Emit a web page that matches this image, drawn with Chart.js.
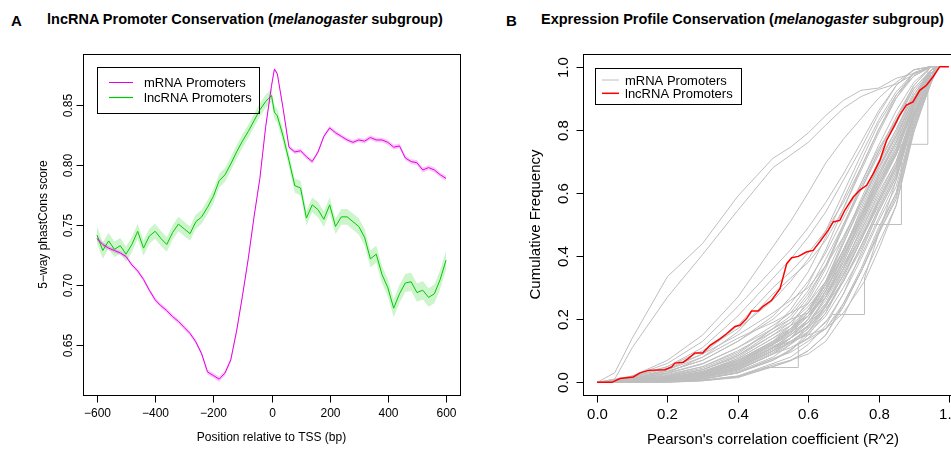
<!DOCTYPE html>
<html>
<head>
<meta charset="utf-8">
<script src="https://cdn.jsdelivr.net/npm/chart.js"></script>
<style>
  html, body { margin: 0; padding: 0; background: #fff; }
  body { width: 951px; height: 449px; overflow: hidden; position: relative; font-family: "Liberation Sans", Arial, sans-serif; }
  canvas { position: absolute; top: 0; }
  #chartA { left: 0; }
  #chartB { left: 475px; }
  .tag, .title { position: absolute; font-weight: bold; white-space: nowrap; color: #000; }
  .tag { font-size: 15px; line-height: 18px; top: 12px; }
  .title { font-size: 14.5px; line-height: 17px; top: 11px; }
</style>
</head>
<body>
<div class="tag" style="left:11px">A</div>
<div class="title" style="left:47px">lncRNA Promoter Conservation (<i>melanogaster</i> subgroup)</div>
<div class="tag" style="left:506px">B</div>
<div class="title" style="left:541px">Expression Profile Conservation (<i>melanogaster</i> subgroup)</div>
<canvas id="chartA" width="475" height="449"></canvas>
<canvas id="chartB" width="500" height="449"></canvas>
<script>
// ---- Panel A : phastCons score around the TSS ----
const positions = [-600, -580, -560, -540, -520, -500, -480, -460, -440, -420,
  -400, -380, -360, -340, -320, -300, -280, -260, -240, -220,
  -200, -180, -160, -140, -120, -100, -80, -60, -40, -20,
  0, 10, 20, 40, 60, 80, 100, 120, 140, 160,
  180, 200, 220, 240, 260, 280, 300, 320, 340, 360,
  380, 400, 420, 440, 460, 480, 500, 520, 540, 560,
  580, 600];

const mrnaMean = [0.739, 0.734, 0.731, 0.729, 0.727, 0.724, 0.717, 0.712, 0.705, 0.696,
  0.688, 0.683, 0.679, 0.674, 0.670, 0.665, 0.660, 0.653, 0.643, 0.628,
  0.625, 0.622, 0.627, 0.638, 0.662, 0.691, 0.722, 0.757, 0.789, 0.832,
  0.866, 0.880, 0.876, 0.847, 0.815, 0.811, 0.812, 0.807, 0.803, 0.811,
  0.824, 0.831, 0.827, 0.824, 0.821, 0.819, 0.821, 0.820, 0.823, 0.821,
  0.821, 0.819, 0.815, 0.816, 0.806, 0.803, 0.802, 0.796, 0.798, 0.796,
  0.792, 0.789];

const mrnaSE = [0.0018, 0.0018, 0.0017, 0.0017, 0.0017, 0.0017, 0.0018, 0.0018, 0.0018, 0.0019,
  0.0019, 0.0019, 0.0019, 0.0020, 0.0020, 0.0020, 0.0020, 0.0020, 0.0020, 0.0021,
  0.0021, 0.0021, 0.0021, 0.0020, 0.0019, 0.0018, 0.0017, 0.0016, 0.0016, 0.0015,
  0.0015, 0.0015, 0.0015, 0.0016, 0.0017, 0.0017, 0.0018, 0.0018, 0.0018, 0.0018,
  0.0018, 0.0018, 0.0018, 0.0018, 0.0018, 0.0018, 0.0018, 0.0019, 0.0019, 0.0019,
  0.0019, 0.0019, 0.0019, 0.0020, 0.0020, 0.0020, 0.0020, 0.0020, 0.0020, 0.0020,
  0.0020, 0.0020];

const lncMean = [0.742, 0.729, 0.737, 0.730, 0.733, 0.726, 0.734, 0.745, 0.731, 0.741,
  0.745, 0.739, 0.734, 0.744, 0.751, 0.747, 0.743, 0.753, 0.757, 0.765,
  0.774, 0.787, 0.792, 0.801, 0.811, 0.820, 0.828, 0.837, 0.846, 0.853,
  0.858, 0.844, 0.841, 0.824, 0.804, 0.783, 0.781, 0.756, 0.767, 0.763,
  0.755, 0.767, 0.749, 0.757, 0.757, 0.753, 0.749, 0.740, 0.722, 0.726,
  0.709, 0.698, 0.681, 0.693, 0.702, 0.703, 0.694, 0.696, 0.690, 0.693,
  0.705, 0.721];

const lncSE = [0.0070, 0.0068, 0.0066, 0.0065, 0.0065, 0.0064, 0.0064, 0.0063, 0.0063, 0.0062,
  0.0062, 0.0062, 0.0061, 0.0061, 0.0060, 0.0060, 0.0059, 0.0059, 0.0058, 0.0058,
  0.0058, 0.0057, 0.0057, 0.0056, 0.0056, 0.0055, 0.0055, 0.0055, 0.0055, 0.0055,
  0.0055, 0.0056, 0.0056, 0.0057, 0.0058, 0.0060, 0.0060, 0.0061, 0.0062, 0.0063,
  0.0064, 0.0064, 0.0065, 0.0065, 0.0066, 0.0067, 0.0068, 0.0069, 0.0070, 0.0071,
  0.0072, 0.0073, 0.0075, 0.0075, 0.0075, 0.0076, 0.0076, 0.0077, 0.0077, 0.0078,
  0.0079, 0.0080];

const xTicksA = [-600, -400, -200, 0, 200, 400, 600];
const xTickLabelsA = ['\u2212600', '\u2212400', '\u2212200', '0', '200', '400', '600'];
const yTicksA = [0.65, 0.70, 0.75, 0.80, 0.85];
const yTickLabelsA = ['0.65', '0.70', '0.75', '0.80', '0.85'];

// ---- Panel B : cumulative distributions of expression correlation ----
const ecdfGrid = [0, 0.05, 0.1, 0.2, 0.3, 0.4, 0.5, 0.55, 0.6, 0.65, 0.7, 0.75, 0.8, 0.85, 0.9, 0.95, 0.97];

// one row per mRNA promoter set, values at ecdfGrid
const mrnaEcdf = [
  [0, .010, .020, .050, .100, .170, .260, .320, .390, .480, .600, .720, .830, .920, .980, 1, 1],
  [0, .003, .008, .020, .045, .090, .170, .230, .310, .420, .550, .680, .800, .900, .970, 1, 1],
  [0, .008, .018, .045, .090, .150, .220, .260, .300, .370, .460, .570, .680, .780, .900, .980, 1],
  [0, .005, .012, .035, .070, .130, .200, .250, .320, .410, .520, .630, .740, .830, .930, .990, 1],
  [0, .002, .005, .015, .035, .070, .130, .180, .260, .360, .490, .630, .750, .860, .950, 1, 1],
  [0, .006, .015, .040, .080, .140, .190, .220, .250, .320, .420, .520, .630, .730, .880, .980, 1],
  [0, .002, .006, .018, .040, .080, .150, .190, .250, .340, .460, .570, .680, .780, .900, .990, 1],
  [0, .004, .010, .030, .060, .110, .170, .200, .220, .270, .360, .460, .570, .680, .850, .970, 1],
  [0, .001, .004, .012, .030, .060, .120, .160, .220, .320, .450, .580, .700, .800, .920, .990, 1],
  [0, .003, .009, .025, .050, .100, .160, .190, .240, .310, .400, .510, .620, .720, .870, .980, 1],
  [0, .001, .003, .010, .025, .055, .110, .150, .200, .280, .390, .510, .630, .740, .880, .980, 1],
  [0, .002, .005, .015, .032, .075, .140, .170, .210, .280, .370, .480, .600, .700, .860, .970, 1],
  [0, .001, .003, .008, .020, .045, .100, .140, .200, .290, .410, .550, .670, .780, .900, .990, 1],
  [0, .002, .004, .013, .030, .065, .130, .160, .190, .260, .360, .470, .580, .690, .850, .970, 1],
  [0, 0, .002, .006, .015, .035, .080, .120, .180, .270, .390, .520, .650, .760, .890, .990, 1],
  [0, .001, .003, .010, .022, .050, .100, .130, .160, .220, .320, .430, .550, .660, .840, .970, 1],
  [0, 0, .001, .004, .010, .030, .070, .100, .160, .240, .360, .490, .610, .720, .870, .980, 1],
  [0, .001, .002, .008, .018, .040, .090, .110, .140, .190, .280, .390, .510, .620, .820, .960, 1],
  [0, 0, .002, .005, .012, .030, .075, .100, .150, .220, .330, .450, .580, .690, .850, .970, 1],
  [0, 0, .001, .003, .008, .020, .060, .080, .120, .180, .280, .410, .540, .650, .830, .970, 1],
  [0, .001, .003, .010, .025, .055, .110, .130, .150, .170, .240, .350, .470, .580, .800, .950, 1],
  [0, 0, 0, .001, .005, .015, .050, .070, .100, .150, .250, .360, .490, .600, .810, .960, 1],
  [0, .003, .008, .022, .050, .095, .170, .210, .280, .370, .500, .620, .730, .840, .940, 1, 1],
  [0, .002, .005, .015, .030, .070, .130, .170, .230, .310, .420, .530, .640, .740, .880, .980, 1],
  [0, .005, .012, .035, .070, .130, .210, .270, .350, .460, .580, .700, .820, .910, .970, 1, 1],
  [0, .001, .003, .010, .020, .050, .110, .140, .180, .240, .340, .450, .560, .670, .840, .970, 1],
  [0, .002, .005, .015, .035, .075, .140, .180, .230, .310, .420, .530, .650, .760, .890, .980, 1],
  [0, .002, .005, .014, .030, .065, .125, .160, .210, .290, .400, .520, .630, .730, .870, .980, 1],
  [0, .001, .004, .012, .028, .060, .120, .155, .210, .300, .420, .540, .660, .760, .890, .980, 1],
  [0, .001, .004, .011, .025, .055, .110, .140, .180, .250, .350, .460, .570, .680, .850, .970, 1],
  [0, .001, .003, .010, .022, .050, .105, .140, .190, .270, .380, .500, .620, .730, .870, .980, 1],
  [0, .002, .005, .014, .032, .070, .130, .170, .230, .320, .440, .560, .680, .790, .910, .990, 1],
  [0, .001, .002, .008, .018, .042, .095, .125, .170, .240, .340, .450, .570, .680, .850, .970, 1],
  [0, 0, .002, .007, .016, .038, .090, .120, .160, .230, .320, .430, .550, .660, .840, .970, 1],
  [0, .001, .004, .013, .030, .065, .125, .165, .220, .310, .440, .570, .690, .800, .910, .990, 1],
  [0, .003, .007, .020, .040, .085, .150, .180, .210, .270, .370, .480, .590, .700, .860, .970, 1],
  [0, 0, .001, .005, .012, .032, .075, .095, .130, .170, .250, .350, .470, .590, .810, .960, 1],
  [0, .001, .003, .009, .020, .045, .100, .125, .155, .210, .300, .400, .520, .640, .830, .960, 1],
  [0, 0, 0, .002, .006, .018, .055, .070, .090, .130, .210, .320, .440, .560, .800, .950, 1],
  [0, .004, .010, .028, .058, .110, .180, .220, .290, .390, .500, .610, .720, .820, .930, .990, 1],
  [0, .001, .003, .011, .025, .055, .110, .150, .200, .290, .400, .520, .640, .750, .880, .980, 1],
  [0, .002, .004, .013, .030, .065, .120, .150, .190, .250, .340, .450, .570, .680, .850, .970, 1],
  [0, .001, .003, .009, .020, .048, .100, .140, .200, .290, .410, .530, .660, .770, .900, .990, 1],
  [0, .001, .004, .011, .026, .058, .115, .140, .175, .230, .320, .420, .540, .650, .840, .970, 1],
  [0, 0, 0, .002, .006, .017, .050, .068, .100, .150, .240, .350, .480, .600, .820, .960, 1],
  [0, .002, .006, .018, .040, .085, .160, .200, .270, .370, .490, .610, .730, .830, .940, 1, 1],
  [0, .005, .020, .060, .130, .240, .360, .420, .490, .570, .660, .760, .860, .940, .990, 1, 1],
  [0, .005, .015, .050, .110, .210, .330, .390, .460, .540, .640, .740, .850, .940, .990, 1, 1],
  [0, .003, .010, .040, .090, .180, .300, .350, .410, .480, .570, .680, .800, .910, .980, 1, 1],
  [0, .003, .010, .030, .080, .160, .280, .330, .380, .450, .550, .670, .790, .900, .980, 1, 1],
  [0, .030, .140, .335, .440, .590, .710, .745, .790, .845, .893, .925, .932, .963, .978, 1, 1],
  [0, .010, .110, .270, .405, .545, .680, .720, .760, .815, .868, .905, .928, .945, .975, 1, 1],
  [0, .005, .020, .070, .150, .270, .430, .510, .600, .695, .770, .835, .900, .950, .990, 1, 1]
];

// mRNA sets with visible jumps, each with its own x positions
const mrnaStepX = [
  [0, .1, .2, .3, .4, .5, .6, .7, .8, .865, .94, .94, .97],
  [0, .2, .3, .4, .5, .6, .7, .78, .865, .865, .9, .95, .97],
  [0, .2, .3, .4, .48, .572, .572, .65, .7, .76, .8, .85, .9, .95, .97],
  [0, .2, .3, .4, .5, .6, .67, .76, .76, .8, .85, .9, .95, .97]
];
const mrnaStepY = [
  [0, .003, .010, .025, .060, .120, .220, .380, .620, .754, .754, 1, 1],
  [0, .005, .015, .040, .090, .170, .320, .500, .500, .720, .880, .990, 1],
  [0, 0, .005, .020, .047, .047, .120, .170, .220, .320, .420, .560, .790, .960, 1],
  [0, .003, .010, .030, .070, .140, .215, .215, .330, .470, .640, .850, .980, 1]
];

const lncEcdfX = [0, 0.042, 0.065, 0.103, 0.122, 0.146, 0.193, 0.212, 0.221, 0.245,
  0.259, 0.278, 0.300, 0.321, 0.349, 0.368, 0.392, 0.406, 0.425, 0.439,
  0.458, 0.472, 0.496, 0.520, 0.539, 0.553, 0.572, 0.595, 0.614, 0.633,
  0.657, 0.671, 0.690, 0.704, 0.728, 0.747, 0.766, 0.785, 0.804, 0.823,
  0.846, 0.860, 0.879, 0.898, 0.917, 0.936, 0.955, 0.974, 1.0];
const lncEcdfY = [0, 0, 0.012, 0.017, 0.030, 0.038, 0.040, 0.049, 0.061, 0.064,
  0.075, 0.093, 0.093, 0.117, 0.138, 0.154, 0.177, 0.181, 0.202, 0.226,
  0.226, 0.241, 0.260, 0.297, 0.376, 0.395, 0.399, 0.413, 0.418, 0.445,
  0.482, 0.508, 0.513, 0.545, 0.587, 0.609, 0.624, 0.661, 0.704, 0.767,
  0.815, 0.846, 0.878, 0.888, 0.925, 0.941, 0.968, 1.0, 1.0];

const ticksB = [0, 0.2, 0.4, 0.6, 0.8, 1.0];
const tickLabelsB = ['0.0', '0.2', '0.4', '0.6', '0.8', '1.0'];

// ---- drawing ----
const FONT = '"Liberation Sans", Arial, sans-serif';
Chart.defaults.font.family = FONT;

// R-style frame: box, outside ticks, rotated y labels, axis titles, boxed legend
function rFrame(cfg) {
  return {
    id: 'rFrame',
    afterDraw(chart) {
      const { ctx, chartArea: a } = chart;
      const xs = chart.scales.x, ys = chart.scales.y;
      const L = Math.round(a.left) + 0.5, R = Math.round(a.right) + 0.5;
      const T = Math.round(a.top) + 0.5, B = Math.round(a.bottom) + 0.5;
      ctx.save();
      ctx.strokeStyle = '#000';
      ctx.fillStyle = '#000';
      ctx.lineWidth = 1;
      ctx.strokeRect(L, T, R - L, B - T);

      ctx.font = cfg.tickFont;
      ctx.textAlign = 'center';
      ctx.textBaseline = 'alphabetic';
      ctx.beginPath();
      cfg.xTicks.forEach((v, i) => {
        const px = Math.round(xs.getPixelForValue(v)) + 0.5;
        ctx.moveTo(px, B);
        ctx.lineTo(px, B + cfg.tickLen);
        ctx.fillText(cfg.xLabels[i], px, cfg.xLabelBase);
      });
      cfg.yTicks.forEach((v, i) => {
        const py = Math.round(ys.getPixelForValue(v)) + 0.5;
        ctx.moveTo(L - cfg.tickLen, py);
        ctx.lineTo(L, py);
        ctx.save();
        ctx.translate(cfg.yLabelBase, py);
        ctx.rotate(-Math.PI / 2);
        ctx.fillText(cfg.yLabels[i], 0, 0);
        ctx.restore();
      });
      ctx.stroke();

      ctx.font = cfg.titleFont;
      ctx.fillText(cfg.xTitle, (a.left + a.right) / 2, cfg.xTitleBase);
      ctx.save();
      ctx.translate(cfg.yTitleBase, (a.top + a.bottom) / 2);
      ctx.rotate(-Math.PI / 2);
      ctx.fillText(cfg.yTitle, 0, 0);
      ctx.restore();

      const lg = cfg.legend;
      ctx.strokeRect(lg.x + 0.5, lg.y + 0.5, lg.w, lg.h);
      ctx.font = cfg.legendFont;
      ctx.textAlign = 'left';
      lg.items.forEach((it, i) => {
        const yy = lg.row0 + i * lg.rowGap;
        ctx.strokeStyle = it.color;
        ctx.lineWidth = it.width;
        ctx.beginPath();
        ctx.moveTo(lg.line0, yy);
        ctx.lineTo(lg.line1, yy);
        ctx.stroke();
        ctx.fillText(it.label, lg.textX, yy + lg.drop);
      });
      ctx.restore();
    }
  };
}

const pts = (xs, ys) => ys.map((v, i) => ({ x: xs[i], y: v }));
const band = (mean, se, sign) => mean.map((m, i) => ({ x: positions[i], y: m + sign * se[i] }));
const NONE = 'rgba(0,0,0,0)';

const MAGENTA = '#e400e4';
const GREEN = '#00c800';

new Chart(document.getElementById('chartA'), {
  type: 'line',
  data: {
    datasets: [
      { label: 'mRNA Promoters', data: pts(positions, mrnaMean), borderColor: MAGENTA, borderWidth: 1, order: 0 },
      { label: 'lncRNA Promoters', data: pts(positions, lncMean), borderColor: GREEN, borderWidth: 1, order: 1 },
      { data: band(mrnaMean, mrnaSE, 1), borderColor: NONE, borderWidth: 0, backgroundColor: 'rgba(230,0,230,0.22)', fill: '+1', order: 2 },
      { data: band(mrnaMean, mrnaSE, -1), borderColor: NONE, borderWidth: 0, fill: false, order: 3 },
      { data: band(lncMean, lncSE, 1), borderColor: NONE, borderWidth: 0, backgroundColor: 'rgba(0,205,0,0.2)', fill: '+1', order: 4 },
      { data: band(lncMean, lncSE, -1), borderColor: NONE, borderWidth: 0, fill: false, order: 5 }
    ]
  },
  options: {
    responsive: false,
    animation: false,
    events: [],
    devicePixelRatio: 1,
    layout: { padding: { left: 83, right: 15, top: 54, bottom: 54 } },
    elements: { point: { radius: 0 }, line: { tension: 0 } },
    scales: {
      x: { type: 'linear', min: -648, max: 648, display: false },
      y: { type: 'linear', min: 0.6088, max: 0.8925, display: false }
    },
    plugins: { legend: { display: false }, tooltip: { enabled: false } }
  },
  plugins: [rFrame({
    tickFont: '12px ' + FONT, titleFont: '12px ' + FONT, legendFont: '13px ' + FONT,
    tickLen: 7,
    xTicks: xTicksA, xLabels: xTickLabelsA, xLabelBase: 416.5,
    yTicks: yTicksA, yLabels: yTickLabelsA, yLabelBase: 72,
    xTitle: 'Position relative to TSS (bp)', xTitleBase: 440.5,
    yTitle: '5\u2212way phastCons score', yTitleBase: 47,
    legend: {
      x: 97, y: 67, w: 162, h: 46, line0: 109, line1: 133, textX: 144, row0: 82.5, rowGap: 15, drop: 4.8,
      items: [{ label: 'mRNA Promoters', color: MAGENTA, width: 1 }, { label: 'lncRNA Promoters', color: GREEN, width: 1.2 }]
    }
  })]
});

const GRAY = '#bebebe';
const grayLines = mrnaEcdf.map(row => ({ data: pts(ecdfGrid, row), borderColor: GRAY, borderWidth: 1, order: 1 }))
  .concat(mrnaStepX.map((xs, k) => ({ data: pts(xs, mrnaStepY[k]), borderColor: GRAY, borderWidth: 1, order: 1 })));

new Chart(document.getElementById('chartB'), {
  type: 'line',
  data: {
    datasets: grayLines.concat([
      { label: 'lncRNA Promoters', data: pts(lncEcdfX, lncEcdfY), borderColor: '#ff0000', borderWidth: 1.5, order: 0 }
    ])
  },
  options: {
    responsive: false,
    animation: false,
    events: [],
    devicePixelRatio: 1,
    layout: { padding: { left: 108, right: 12, top: 54, bottom: 54 } },
    elements: { point: { radius: 0 }, line: { tension: 0 } },
    scales: {
      x: { type: 'linear', min: -0.04, max: 1.04, display: false },
      y: { type: 'linear', min: -0.04, max: 1.04, display: false }
    },
    plugins: { legend: { display: false }, tooltip: { enabled: false } }
  },
  plugins: [rFrame({
    tickFont: '15px ' + FONT, titleFont: '15px ' + FONT, legendFont: '13px ' + FONT,
    tickLen: 7,
    xTicks: ticksB, xLabels: tickLabelsB, xLabelBase: 419,
    yTicks: ticksB, yLabels: tickLabelsB, yLabelBase: 92.5,
    xTitle: "Pearson's correlation coefficient (R^2)", xTitleBase: 444,
    yTitle: 'Cumulative Frequency', yTitleBase: 64.5,
    legend: {
      x: 120, y: 68, w: 146, h: 36, line0: 127, line1: 144, textX: 150, row0: 80, rowGap: 13.3, drop: 4.5,
      items: [{ label: 'mRNA Promoters', color: GRAY, width: 1 }, { label: 'lncRNA Promoters', color: '#ff0000', width: 1.5 }]
    }
  })]
});
</script>
</body>
</html>
